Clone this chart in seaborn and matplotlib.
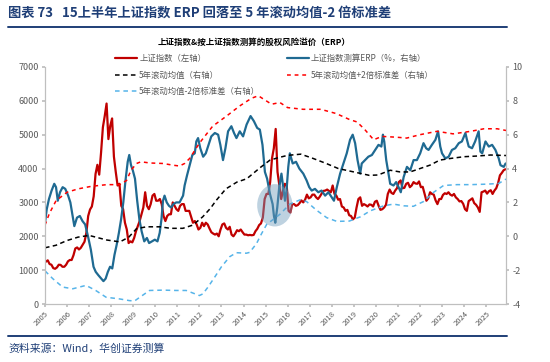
import numpy as np
import pandas as pd
import matplotlib
matplotlib.use('Agg')
import matplotlib.pyplot as plt
import seaborn as sns
from matplotlib.patches import Ellipse
from matplotlib.lines import Line2D

sns.set_theme(style='white')
plt.rcParams['font.family'] = ['Noto Sans CJK SC', 'DejaVu Sans']
plt.rcParams['axes.unicode_minus'] = False

# 上证指数 月度 (2005-01 ~ 2025-11)
sh_index = [
    1250, 1290, 1180, 1160, 1060, 1040, 1080, 1160, 1155, 1100, 1100, 1160,   # 2005
    1260, 1300, 1300, 1440, 1640, 1670, 1610, 1660, 1750, 1840, 2100, 2600,   # 2006
    2790, 2880, 3180, 3840, 4110, 3820, 4470, 5220, 5550, 5920, 4870, 5260,   # 2007
    5480, 4350, 3900, 3500, 3550, 2900, 2800, 2400, 2200, 1800, 1850, 1820,   # 2008
    1950, 2150, 2300, 2450, 2650, 2850, 3300, 2900, 2800, 2950, 3200, 3250,   # 2009
    3050, 3050, 3100, 2950, 2600, 2450, 2600, 2650, 2650, 3000, 2900, 2800,   # 2010
    2750, 2900, 2950, 2950, 2750, 2750, 2750, 2580, 2400, 2450, 2350, 2200,   # 2011
    2250, 2400, 2300, 2400, 2350, 2230, 2120, 2080, 2050, 2080, 2000, 2200,   # 2012
    2350, 2380, 2250, 2200, 2280, 2050, 2000, 2080, 2180, 2150, 2200, 2120,   # 2013
    2050, 2050, 2030, 2040, 2030, 2040, 2150, 2220, 2330, 2380, 2550, 3100,   # 2014
    3250, 3250, 3600, 4300, 4600, 5170, 3900, 3500, 3100, 3350, 3550, 3500,   # 2015
    2750, 2700, 2950, 2950, 2900, 2920, 2980, 3060, 3000, 3080, 3230, 3120,   # 2016
    3150, 3230, 3230, 3150, 3100, 3170, 3260, 3340, 3350, 3380, 3340, 3300,   # 2017
    3500, 3250, 3200, 3080, 3100, 2880, 2850, 2750, 2780, 2620, 2600, 2500,   # 2018
    2550, 2850, 3100, 3150, 2900, 2950, 2920, 2880, 2940, 2930, 2880, 3020,   # 2019
    3050, 2900, 2780, 2800, 2850, 2930, 3250, 3380, 3280, 3250, 3350, 3420,   # 2020
    3600, 3650, 3420, 3430, 3550, 3580, 3450, 3500, 3600, 3560, 3550, 3620,   # 2021
    3450, 3460, 3250, 3050, 3120, 3300, 3250, 3230, 3060, 2950, 3100, 3100,   # 2022
    3220, 3270, 3250, 3300, 3230, 3200, 3250, 3150, 3100, 3030, 3040, 2960,   # 2023
    2800, 2750, 3040, 3080, 3120, 2980, 2930, 2850, 2720, 3300, 3320, 3350,   # 2024
    3260, 3330, 3360, 3250, 3350, 3420, 3570, 3800, 3870, 3950, 3980,         # 2025
]
sh_dates = pd.date_range('2005-01-01', periods=len(sh_index), freq='MS')

# 上证指数测算ERP (%)
erp_year = [
    2005.00, 2005.08, 2005.18, 2005.30, 2005.42, 2005.50, 2005.58, 2005.68, 2005.80, 2005.92,
    2006.05, 2006.15, 2006.25, 2006.33, 2006.45, 2006.58, 2006.70, 2006.82, 2006.95,
    2007.08, 2007.20, 2007.30, 2007.42, 2007.55, 2007.65, 2007.75, 2007.85, 2007.95,
    2008.05, 2008.15, 2008.25, 2008.35, 2008.45, 2008.55, 2008.65, 2008.75, 2008.82, 2008.90, 2008.98,
    2009.08, 2009.18, 2009.28, 2009.38, 2009.50, 2009.62, 2009.72, 2009.85, 2009.98,
    2010.10, 2010.20, 2010.28, 2010.35, 2010.42, 2010.52, 2010.62, 2010.72, 2010.82, 2010.95,
    2011.10, 2011.26, 2011.33, 2011.44, 2011.56, 2011.68, 2011.79, 2011.86, 2011.94,
    2012.04, 2012.17, 2012.29, 2012.39, 2012.54, 2012.70, 2012.85, 2012.95,
    2013.07, 2013.18, 2013.30, 2013.45, 2013.57, 2013.68, 2013.83, 2013.98,
    2014.14, 2014.32, 2014.47, 2014.62, 2014.74, 2014.86, 2014.97,
    2015.07, 2015.20, 2015.32, 2015.38, 2015.44, 2015.53, 2015.62, 2015.72, 2015.80, 2015.88, 2015.95,
    2016.03, 2016.10, 2016.23, 2016.38, 2016.53, 2016.71, 2016.86, 2016.98,
    2017.09, 2017.24, 2017.39, 2017.54, 2017.70, 2017.85,
    2018.00, 2018.10, 2018.23, 2018.38, 2018.53, 2018.68, 2018.83, 2018.95,
    2019.06, 2019.17, 2019.29, 2019.36, 2019.51, 2019.66, 2019.82, 2019.97,
    2020.12, 2020.25, 2020.32, 2020.38, 2020.47, 2020.57, 2020.65, 2020.80, 2020.92,
    2021.03, 2021.13, 2021.26, 2021.41, 2021.56, 2021.71, 2021.86,
    2022.01, 2022.16, 2022.28, 2022.39, 2022.54, 2022.70, 2022.82, 2022.92,
    2023.00, 2023.15, 2023.30, 2023.45, 2023.60, 2023.76, 2023.90,
    2024.06, 2024.13, 2024.21, 2024.36, 2024.50, 2024.66, 2024.74, 2024.82, 2024.97,
    2025.12, 2025.27, 2025.42, 2025.57, 2025.65, 2025.80, 2025.88,
]
erp_val = [
    0.8, 1.6, 2.2, 2.7, 3.1, 2.9, 2.1, 2.6, 2.9, 2.8,
    2.4, 2.0, 1.2, 0.6, 1.1, 1.2, 0.9, 0.7, 0.0,
    -0.8, -1.8, -2.1, -2.3, -2.5, -2.65, -2.5, -2.1, -1.8,
    -1.9, -1.1, -0.5, 0.2, 1.0, 2.0, 3.3, 4.4, 4.8, 4.2, 3.9,
    3.4, 2.1, 1.0, 0.3, -0.3, -0.1, -0.4, -0.3, -0.2,
    -0.3, 0.2, 1.0, 2.1, 2.4, 2.0, 1.8, 1.7, 1.9, 2.0,
    2.0, 2.4, 3.0, 3.6, 4.2, 4.8, 4.9, 5.6, 5.8,
    5.2, 4.7, 4.9, 5.3, 5.9, 6.1, 6.0, 5.4,
    4.5, 5.2, 6.2, 6.5, 6.1, 5.8, 6.2, 5.9,
    6.6, 7.1, 6.8, 6.4, 6.3, 5.4, 3.8,
    3.4, 2.5, 1.9, 1.2, 0.8, 1.7, 2.9, 3.7, 2.9, 2.1, 2.7,
    4.1, 4.9, 4.3, 4.4, 4.0, 3.7, 3.3, 2.9,
    2.7, 2.8, 2.6, 2.7, 2.4, 2.6,
    2.3, 2.1, 2.9, 3.7, 4.3, 4.9, 5.7, 6.0,
    5.5, 4.5, 3.7, 4.3, 4.5, 4.7, 4.8, 5.1,
    5.4, 5.3, 6.0, 5.6, 4.5, 3.7, 3.1, 3.0, 3.2,
    2.9, 2.6, 3.5, 4.1, 3.9, 4.5, 4.5,
    4.9, 5.5, 5.2, 5.1, 5.4, 5.7, 6.2, 5.3,
    4.9, 4.6, 4.7, 5.1, 5.2, 5.5, 5.6,
    6.1, 5.7, 5.3, 5.2, 5.6, 6.2, 5.0, 4.9, 5.6,
    5.3, 5.4, 5.1, 4.6, 4.2, 4.1, 4.3,
]

# 5年滚动均值
mean_year = [2005.0, 2005.5, 2006.0, 2006.5, 2007.0, 2007.3, 2007.8, 2008.4, 2008.8, 2009.15,
             2009.6, 2010.2, 2010.7, 2011.25, 2011.7, 2012.15, 2012.5, 2012.75, 2013.2, 2013.7,
             2014.15, 2014.75, 2015.2, 2015.6, 2016.0, 2016.6, 2017.15, 2017.75, 2018.3, 2019.0,
             2019.7, 2020.1, 2020.65, 2021.1, 2021.55, 2022.0, 2022.45, 2022.9, 2023.4, 2024.0,
             2024.6, 2025.2, 2025.9]
mean_val = [-0.68, -0.53, -0.25, -0.05, 0.05, -0.05, -0.22, -0.33, -0.05, 0.45,
            0.56, 0.56, 0.47, 0.47, 0.66, 1.15, 1.65, 2.1, 2.8, 3.2,
            3.4, 4.05, 4.5, 4.65, 4.78, 4.85, 4.6, 4.3, 4.0, 3.8,
            3.6, 3.62, 3.9, 3.8, 3.8, 4.0, 4.2, 4.5, 4.6, 4.7,
            4.74, 4.8, 4.77]

# 5年滚动均值+2倍标准差
upper_year = [2005.0, 2005.2, 2005.5, 2006.0, 2006.5, 2007.1, 2007.8, 2008.4, 2008.7, 2008.9,
              2009.15, 2009.35, 2009.75, 2010.35, 2010.8, 2011.1, 2011.33, 2011.56, 2012.0, 2012.6,
              2013.23, 2013.83, 2014.36, 2014.67, 2014.97, 2015.27, 2015.65, 2016.0, 2016.7, 2017.5,
              2018.2, 2018.8, 2019.15, 2019.5, 2019.9, 2020.27, 2020.95, 2021.4, 2022.0, 2022.77,
              2023.5, 2024.3, 2024.9, 2025.5, 2025.9]
upper_val = [0.66, 1.35, 2.1, 2.6, 2.8, 2.95, 3.05, 3.05, 3.3, 3.9,
             4.3, 4.4, 4.33, 4.3, 4.2, 4.15, 4.3, 4.6, 5.5, 6.5,
             7.1, 7.7, 8.15, 8.3, 8.05, 7.8, 7.9, 7.6, 7.5, 7.5,
             7.25, 6.9, 6.75, 6.3, 5.7, 5.9, 5.85, 5.8, 6.0, 6.2,
             6.05, 6.2, 6.35, 6.35, 6.25]

# 5年滚动均值-2倍标准差
lower_year = [2005.0, 2005.35, 2005.8, 2006.26, 2006.86, 2007.3, 2007.77, 2008.38, 2008.83, 2009.06,
              2009.3, 2009.74, 2010.35, 2010.95, 2011.4, 2011.7, 2012.0, 2012.16, 2012.39, 2012.7,
              2013.0, 2013.38, 2013.68, 2014.13, 2014.28, 2014.59, 2014.82, 2015.05, 2015.35, 2015.65,
              2016.1, 2016.56, 2016.86, 2017.3, 2017.77, 2018.23, 2018.8, 2019.3, 2019.74, 2020.35,
              2020.8, 2021.26, 2021.7, 2022.16, 2022.62, 2023.07, 2023.68, 2024.3, 2025.05, 2025.57,
              2025.9]
lower_val = [-2.04, -2.5, -3.0, -3.1, -2.9, -3.2, -3.6, -3.7, -3.8, -3.82,
             -3.6, -3.2, -3.18, -3.2, -3.2, -3.35, -3.5, -3.4, -3.0, -2.4,
             -1.8, -1.2, -0.97, -1.0, -0.95, -0.43, 0.16, 0.7, 1.0, 1.3,
             1.9, 2.15, 2.05, 1.55, 1.1, 0.88, 0.9, 1.15, 1.5, 1.8,
             1.9, 1.8, 1.77, 2.05, 2.6, 3.0, 3.05, 3.05, 3.08, 3.12,
             3.38]

years = list(range(2005, 2026))

C_RED = '#C00000'
C_BLUE = '#1F6A92'
C_LBLUE = '#56B4E9'
C_NAVY = '#1F3F77'
C_GREY = '#595959'

sh_x = sh_dates.year + (sh_dates.month - 0.5) / 12

fig = plt.figure(figsize=(5.5, 3.62), dpi=100)
ax = fig.add_axes([0.0818, 0.1602, 0.920 - 0.0818, 0.815 - 0.1602])
ax2 = ax.twinx()

sns.lineplot(x=np.asarray(sh_x), y=sh_index, ax=ax, color=C_RED, lw=1.6)
sns.lineplot(x=erp_year, y=erp_val, ax=ax2, color=C_BLUE, lw=1.6)
sns.lineplot(x=mean_year, y=mean_val, ax=ax2, color='black', lw=1.1,
             linestyle=(0, (3, 2.2)))
sns.lineplot(x=upper_year, y=upper_val, ax=ax2, color='#FF0000', lw=1.1,
             linestyle=(0, (2.5, 2.5)))
sns.lineplot(x=lower_year, y=lower_val, ax=ax2, color=C_LBLUE, lw=1.1,
             linestyle=(0, (3, 2.5)))

# 圈出2015年ERP低点
ax2.add_patch(Ellipse((2015.42, 1.83), 1.6, 2.5, facecolor='#6f9cbc', alpha=0.45,
                      edgecolor='none', zorder=5))

ax.set_xlim(2005, 2025.9)
ax.set_ylim(0, 7000)
ax2.set_ylim(-4, 10)
ax.set_yticks(range(0, 7001, 1000))
ax2.set_yticks(range(-4, 11, 2))
ax.set_xticks(years)
ax.set_xticklabels([str(y) for y in years], rotation=45, ha='right',
                   rotation_mode='anchor', fontsize=5.5, color=C_GREY)
ax.tick_params(axis='y', labelsize=6.5, labelcolor=C_GREY, length=2.5, color='#BFBFBF',
               left=True, pad=2)
ax.tick_params(axis='x', length=2.5, color='#BFBFBF', bottom=True, pad=1.5)
ax2.tick_params(axis='y', labelsize=6.5, labelcolor=C_GREY, length=2.5, color='#BFBFBF',
                right=True, pad=2)
for a in (ax, ax2):
    a.grid(False)
    a.set_xlabel('')
    a.set_ylabel('')
    a.spines['top'].set_visible(False)
    for s in ('left', 'right', 'bottom'):
        a.spines[s].set_color('#BFBFBF')
        a.spines[s].set_linewidth(0.8)

handles = [
    Line2D([], [], color=C_RED, lw=1.6),
    Line2D([], [], color='black', lw=1.1, linestyle=(0, (3, 2.2))),
    Line2D([], [], color=C_LBLUE, lw=1.1, linestyle=(0, (3, 2.5))),
    Line2D([], [], color=C_BLUE, lw=1.6),
    Line2D([], [], color='#FF0000', lw=1.1, linestyle=(0, (2.5, 2.5))),
]
labels = ['上证指数（左轴）', '5年滚动均值（右轴）', '5年滚动均值-2倍标准差（右轴）',
          '上证指数测算ERP（%，右轴）', '5年滚动均值+2倍标准差（右轴）']
leg = fig.legend(handles, labels, ncol=2, loc='upper left',
                 bbox_to_anchor=(115 / 550, 1 - 54 / 362), frameon=False,
                 fontsize=6.0, labelspacing=0.9, handlelength=2.6, handletextpad=0.3,
                 columnspacing=3.2, borderpad=0, borderaxespad=0)
for t in leg.get_texts():
    t.set_color(C_GREY)

fig.text(8 / 550, 1 - 13 / 362,
         '图表 73   15上半年上证指数 ERP 回落至 5 年滚动均值-2 倍标准差',
         fontsize=9.5, fontweight='bold', color=C_NAVY, va='center', ha='left')
fig.add_artist(Line2D([8 / 550, 507 / 550], [1 - 27 / 362, 1 - 27 / 362],
                      color=C_NAVY, lw=1.4))
fig.text(254 / 550, 1 - 42.5 / 362, '上证指数&按上证指数测算的股权风险溢价（ERP）',
         fontsize=6.1, fontweight='bold', color='black', va='center', ha='center')
fig.add_artist(Line2D([8 / 550, 507 / 550], [1 - 336 / 362, 1 - 336 / 362],
                      color=C_NAVY, lw=1.4))
fig.text(8 / 550, 1 - 349 / 362, '资料来源：Wind，华创证券测算',
         fontsize=7.8, style='italic', color=C_NAVY, va='center', ha='left')

fig.savefig('out.png', dpi=100)
